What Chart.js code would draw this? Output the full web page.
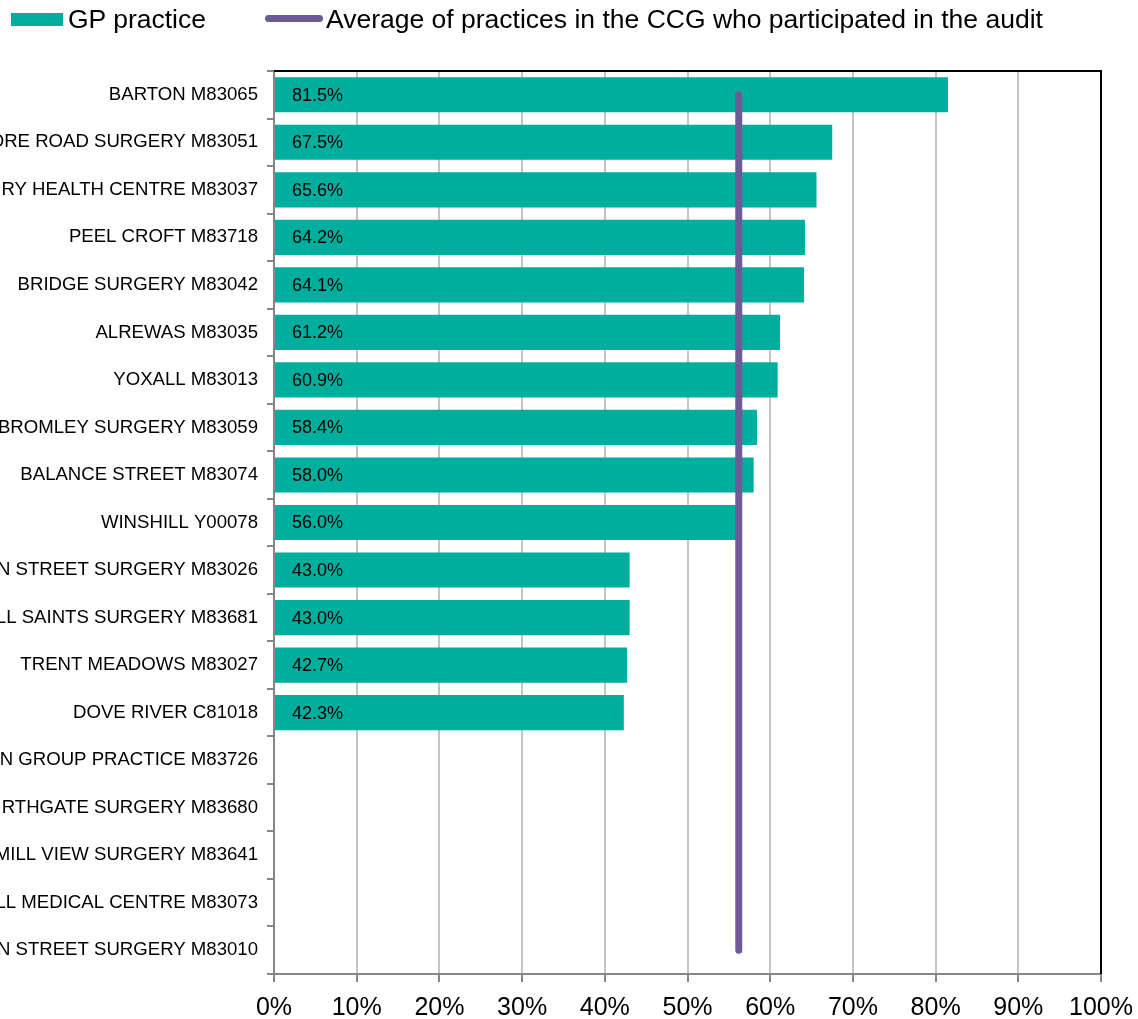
<!DOCTYPE html>
<html>
<head>
<meta charset="utf-8">
<script src="https://cdn.jsdelivr.net/npm/chart.js@4"></script>
<style>
    html, body { margin: 0; padding: 0; background: #fff; }
    body { width: 1138px; height: 1019px; position: relative; overflow: hidden; font-family: "Liberation Sans", Arial, sans-serif; }
    #wrap { position: absolute; left: 0; top: 0; width: 1138px; height: 1019px; }
    .legend-text { position: absolute; font-size: 26.5px; line-height: 26px; color: #000; white-space: nowrap; top: 6px; }
    #swatchBar { position: absolute; left: 11px; top: 13px; width: 52px; height: 13px; background: #00ae9d; }
    #swatchLine { position: absolute; left: 265px; top: 15px; width: 58px; height: 7px; border-radius: 4px; background: #6c5b96; }
</style>
</head>
<body>
<div id="wrap"><canvas id="chart" width="1138" height="1019"></canvas></div>
<div id="swatchBar"></div>
<div class="legend-text" style="left:68px">GP practice</div>
<div id="swatchLine"></div>
<div class="legend-text" style="left:326px">Average of practices in the CCG who participated in the audit</div>
<script>
const practices = [
    'BARTON M83065',
    'ORE ROAD SURGERY M83051',
    'RY HEALTH CENTRE M83037',
    'PEEL CROFT M83718',
    'BRIDGE SURGERY M83042',
    'ALREWAS M83035',
    'YOXALL M83013',
    'BROMLEY SURGERY M83059',
    'BALANCE STREET M83074',
    'WINSHILL Y00078',
    'N STREET SURGERY M83026',
    'LL SAINTS SURGERY M83681',
    'TRENT MEADOWS M83027',
    'DOVE RIVER C81018',
    'N GROUP PRACTICE M83726',
    'RTHGATE SURGERY M83680',
    'MILL VIEW SURGERY M83641',
    'LL MEDICAL CENTRE M83073',
    'N STREET SURGERY M83010'
];
const practiceValues = [81.5, 67.5, 65.6, 64.2, 64.1, 61.2, 60.9, 58.4, 58.0, 56.0,
    43.0, 43.0, 42.7, 42.3, null, null, null, null, null];
const ccgAverage = 56.2;
const xTicks = [0, 10, 20, 30, 40, 50, 60, 70, 80, 90, 100];

const FONT = '"Liberation Sans", Arial, sans-serif';

// value labels inside the bars, near the base
const barLabels = {
    id: 'barLabels',
    afterDatasetsDraw(chart) {
        const ctx = chart.ctx;
        const meta = chart.getDatasetMeta(0);
        ctx.save();
        ctx.font = '18px ' + FONT;
        ctx.fillStyle = '#000';
        ctx.textAlign = 'left';
        ctx.textBaseline = 'middle';
        meta.data.forEach((bar, i) => {
            const v = practiceValues[i];
            if (v === null) return;
            ctx.fillText(v.toFixed(1) + '%', bar.base + 17, bar.y + 1);
        });
        ctx.restore();
    }
};

// black frame on top and right of the plot area
const plotFrame = {
    id: 'plotFrame',
    afterDraw(chart) {
        const a = chart.chartArea;
        const ctx = chart.ctx;
        ctx.save();
        ctx.strokeStyle = '#000';
        ctx.lineWidth = 2;
        ctx.beginPath();
        ctx.moveTo(a.left, a.top);
        ctx.lineTo(a.right, a.top);
        ctx.lineTo(a.right, a.bottom);
        ctx.stroke();
        ctx.restore();
    }
};

new Chart(document.getElementById('chart'), {
    type: 'bar',
    data: {
        labels: practices,
        datasets: [{
            label: 'GP practice',
            data: practiceValues,
            backgroundColor: '#00ae9d',
            categoryPercentage: 1,
            barPercentage: 0.74,
            order: 1
        }, {
            type: 'line',
            label: 'Average of practices in the CCG who participated in the audit',
            data: practices.map(() => ccgAverage),
            borderColor: '#6c5b96',
            borderWidth: 7,
            borderCapStyle: 'round',
            pointRadius: 0,
            fill: false,
            order: 0
        }]
    },
    options: {
        indexAxis: 'y',
        responsive: false,
        animation: false,
        layout: { padding: { top: 71, right: 37, left: 0, bottom: 0 } },
        plugins: {
            legend: { display: false },
            tooltip: { enabled: false }
        },
        scales: {
            x: {
                min: 0,
                max: 100,
                afterBuildTicks(scale) { scale.ticks = xTicks.map(v => ({ value: v })); },
                afterFit(scale) {
                    scale.height = 45;
                    scale.paddingLeft = 0;
                    scale.paddingRight = 0;
                },
                ticks: {
                    color: '#000',
                    font: { family: FONT, size: 25 },
                    padding: 11,
                    maxRotation: 0,
                    callback: v => v + '%'
                },
                grid: { color: '#c4c4c4', lineWidth: 2, tickLength: 8, tickColor: '#868686' },
                border: { color: '#868686', width: 2 }
            },
            y: {
                afterFit(scale) { scale.width = 274; },
                ticks: {
                    color: '#000',
                    font: { family: FONT, size: 18.6 },
                    padding: 9,
                    autoSkip: false
                },
                grid: { drawOnChartArea: false, offset: true, tickLength: 7, color: '#868686', lineWidth: 2 },
                border: { color: '#868686', width: 2 }
            }
        }
    },
    plugins: [barLabels, plotFrame]
});
</script>
</body>
</html>
